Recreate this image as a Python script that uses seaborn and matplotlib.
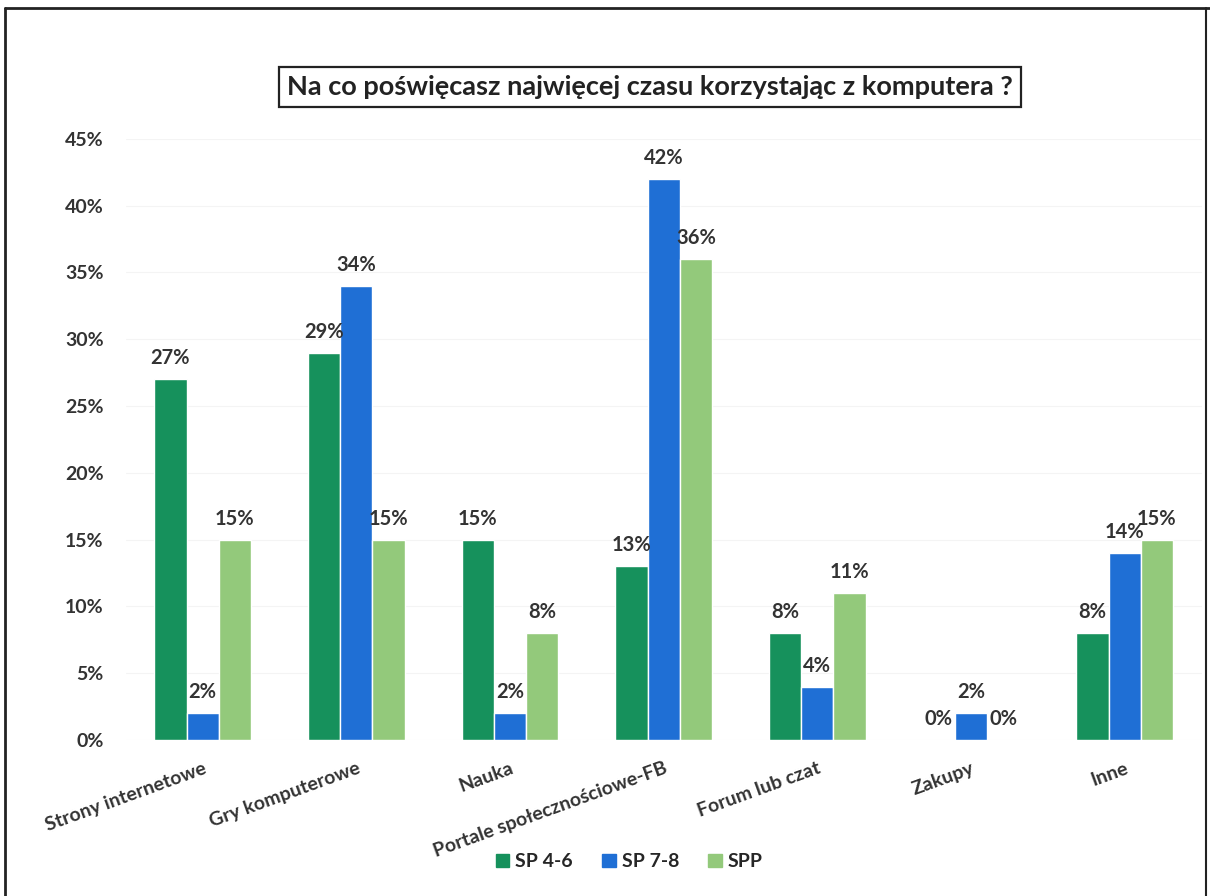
import pandas as pd
import matplotlib.pyplot as plt
import seaborn as sns
from matplotlib.lines import Line2D

categories = ['Strony internetowe', 'Gry komputerowe', 'Nauka',
              'Portale społecznościowe-FB', 'Forum lub czat', 'Zakupy', 'Inne']
sp46 = [27, 29, 15, 13, 8, 0, 8]
sp78 = [2, 34, 2, 42, 4, 2, 14]
spp = [15, 15, 8, 36, 11, 0, 15]
groups = ['SP 4-6', 'SP 7-8', 'SPP']
colors = ['#16915C', '#1F6FD5', '#93C97B']
yticks = [0, 5, 10, 15, 20, 25, 30, 35, 40, 45]

df = pd.DataFrame({'kat': categories * 3,
                   'grupa': [g for g in groups for _ in categories],
                   'val': sp46 + sp78 + spp})

sns.set_theme(style='white')
plt.rcParams['font.family'] = ['Lato', 'DejaVu Sans']

fig = plt.figure(figsize=(12.1, 8.96), dpi=100)
ax = fig.add_axes([0.104, 0.174, 0.889, 0.671])
sns.barplot(data=df, x='kat', y='val', hue='grupa', palette=colors,
            width=0.63, saturation=1, ax=ax, legend=False)

for c in ax.containers:
    ax.bar_label(c, fmt='%d%%', padding=8, fontsize=14.5, fontweight='bold', color='#333333')

ax.set_ylim(0, 45)
ax.set_yticks(yticks)
ax.set_yticklabels([f'{t}%' for t in yticks], fontsize=14, fontweight='bold', color='#333333')
ax.set_xticks(range(len(categories)))
ax.set_xticklabels(categories, rotation=20, ha='right', rotation_mode='anchor',
                   fontsize=14, fontweight='bold', color='#333333')
ax.tick_params(axis='x', pad=14, length=0)
ax.tick_params(axis='y', pad=16, length=0)
ax.set_xlabel('')
ax.set_ylabel('')
for s in ax.spines.values():
    s.set_visible(False)
ax.yaxis.grid(True, color='#f4f4f4', lw=0.8)
ax.set_axisbelow(True)

fig.text(0.537, 0.903, 'Na co poświęcasz najwięcej czasu korzystając z komputera ?',
         ha='center', va='center', fontsize=19.5, fontweight='bold', color='#222222',
         bbox=dict(boxstyle='square,pad=0.3', fc='white', ec='#222222', lw=1.6))

handles = [plt.Rectangle((0, 0), 1, 1, color=c) for c in colors]
fig.legend(handles, groups, loc='center', bbox_to_anchor=(0.52, 0.038), ncol=3,
           frameon=False, prop={'weight': 'bold', 'size': 14},
           handlelength=0.7, handleheight=0.7, handletextpad=0.3, columnspacing=1.5)

fig.add_artist(Line2D([0.004, 0.004], [0, 0.991], color='#222222', lw=2))
fig.add_artist(Line2D([0.004, 1.0], [0.991, 0.991], color='#222222', lw=2))
fig.add_artist(Line2D([0.997, 0.997], [0, 0.991], color='#222222', lw=1.5))

fig.savefig('out.png', dpi=100)
